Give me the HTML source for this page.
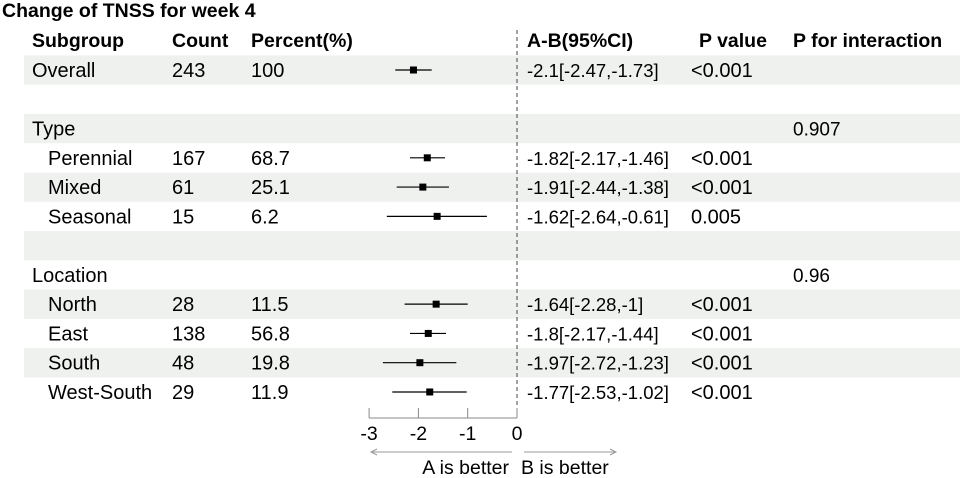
<!DOCTYPE html>
<html><head><meta charset="utf-8"><style>
body{margin:0;background:#fff;}
svg{display:block;font-family:"Liberation Sans",Arial,sans-serif;}
</style></head><body>
<svg id="c" width="960" height="478">
<text x="2" y="17" font-size="19.5" font-weight="bold">Change of TNSS for week 4</text>
<g id="bands"></g>
<g font-size="19.5" font-weight="bold">
<text x="32" y="47">Subgroup</text><text x="172" y="47">Count</text><text x="251" y="47">Percent(%)</text>
<text x="527" y="47">A-B(95%CI)</text><text x="699" y="47">P value</text><text x="793" y="47">P for interaction</text>
</g>
<g id="rows" font-size="20"></g>
<g id="marks"></g>
<g id="axis"></g>
</svg>
<script>
const labels=["Overall","","Type","Perennial","Mixed","Seasonal","","Location","North","East","South","West-South"];
const indent=[0,0,0,1,1,1,0,0,1,1,1,1];
const counts=["243","","","167","61","15","","","28","138","48","29"];
const percents=["100","","","68.7","25.1","6.2","","","11.5","56.8","19.8","11.9"];
const est=[-2.1,null,null,-1.82,-1.91,-1.62,null,null,-1.64,-1.8,-1.97,-1.77];
const lo=[-2.47,null,null,-2.17,-2.44,-2.64,null,null,-2.28,-2.17,-2.72,-2.53];
const hi=[-1.73,null,null,-1.46,-1.38,-0.61,null,null,-1,-1.44,-1.23,-1.02];
const ciText=["-2.1[-2.47,-1.73]","","","-1.82[-2.17,-1.46]","-1.91[-2.44,-1.38]","-1.62[-2.64,-0.61]","","","-1.64[-2.28,-1]","-1.8[-2.17,-1.44]","-1.97[-2.72,-1.23]","-1.77[-2.53,-1.02]"];
const pvals=["<0.001","","","<0.001","<0.001","0.005","","","<0.001","<0.001","<0.001","<0.001"];
const pint=["","","0.907","","","","","0.96","","","",""];
const ticks=[-3,-2,-1,0];
const NS="http://www.w3.org/2000/svg";
const x=v=>517+(v-0)*49.3;
const y=i=>70+i*29.27;
function mk(t,a,p){const e=document.createElementNS(NS,t);for(const k in a)e.setAttribute(k,a[k]);p.appendChild(e);return e;}
const bands=document.getElementById('bands'),rows=document.getElementById('rows'),marks=document.getElementById('marks'),axis=document.getElementById('axis');
labels.forEach((l,i)=>{
  if(i%2===0){const r=mk('rect',{x:24,y:y(i)-14.6,width:936,height:29.3,fill:'#eff1ef'},bands);
  
  }
  const yy=y(i)+7;
  [[l,indent[i]?48:32,20],[counts[i],172,20],[percents[i],251,20],[ciText[i],527,18.5],[pvals[i],691,20],[pint[i],793,19]].forEach(([t,xx,fs])=>{
    if(!t)return;const e=mk('text',{x:xx,y:yy,'font-size':fs},rows);e.textContent=t;
    
    
  });
  if(est[i]!==null){
    const ln=mk('line',{x1:x(lo[i]),x2:x(hi[i]),y1:y(i),y2:y(i),stroke:'#000','stroke-width':1.2},marks);
    
    
    const sq=mk('rect',{x:x(est[i])-3.5,y:y(i)-3.5,width:7,height:7,fill:'#000'},marks);
    
    
  }
});
const ref=mk('line',{x1:x(0),x2:x(0),y1:30,y2:408,stroke:'#444','stroke-dasharray':'4,3'},axis);


const al=mk('line',{x1:x(ticks[0]),x2:x(ticks[ticks.length-1]),y1:418,y2:418,stroke:'#888'},axis);


ticks.forEach(t=>{
  const tl=mk('line',{x1:x(t),x2:x(t),y1:408,y2:418,stroke:'#888'},axis);
  
  
  const tx=mk('text',{x:x(t),y:440,'font-size':19.5,'text-anchor':'middle'},axis);tx.textContent=t;
  
  
});
const arr=[[512,371,'arrow-left'],[524,616,'arrow-right']];
arr.forEach(([a,b,n])=>{
  const d=b>a?-1:1;
  const p=mk('path',{d:`M${a},452L${b},452M${b+d*6},449L${b},452L${b+d*6},455`,stroke:'#999',fill:'none'},axis);
  
  
});
const ta=mk('text',{x:509,y:474,'font-size':19.5,'text-anchor':'end'},axis);ta.textContent='A is better';


const tb=mk('text',{x:521,y:474,'font-size':19.5},axis);tb.textContent='B is better';


</script>
</body></html>
